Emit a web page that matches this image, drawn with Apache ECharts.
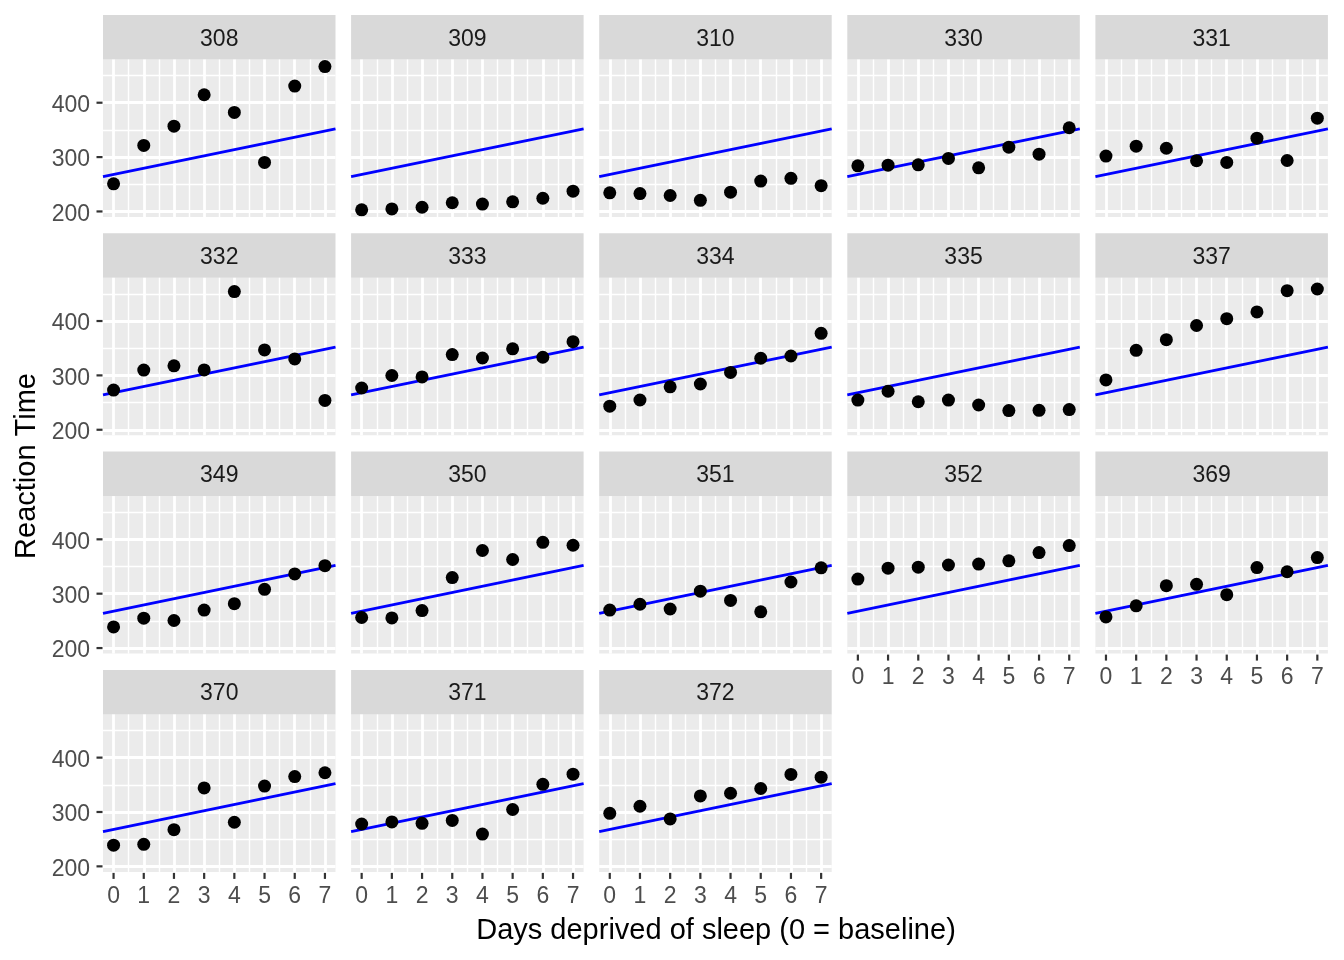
<!DOCTYPE html>
<html>
<head>
<meta charset="utf-8">
<script src="https://cdn.jsdelivr.net/npm/echarts@6/dist/echarts.min.js"></script>
<style>html,body{margin:0;padding:0;background:#fff}#c{width:1344px;height:960px}</style>
</head>
<body>
<div id="c"></div>
<script>
// ---------- data ----------
const days = [0, 1, 2, 3, 4, 5, 6, 7];
const subjects = ['308','309','310','330','331','332','333','334','335','337','349','350','351','352','369','370','371','372'];
const rt308 = [250.8, 321.4, 356.9, 414.7, 382.2, 290.1, 430.6, 466.4];
const rt309 = [203.0, 204.7, 207.7, 216.0, 213.6, 217.7, 224.3, 237.3];
const rt310 = [234.3, 232.8, 229.3, 220.5, 235.4, 255.8, 261.0, 247.5];
const rt330 = [283.9, 285.1, 285.8, 297.6, 280.2, 318.3, 305.3, 354.0];
const rt331 = [301.8, 320.1, 316.3, 293.3, 290.1, 334.8, 293.7, 371.6];
const rt332 = [273.0, 309.8, 317.5, 310.0, 454.2, 346.8, 330.3, 253.9];
const rt333 = [276.8, 299.8, 297.2, 338.2, 332.0, 348.8, 333.4, 362.0];
const rt334 = [243.4, 254.7, 279.0, 284.2, 305.5, 331.5, 335.7, 377.3];
const rt335 = [254.5, 270.8, 251.5, 254.6, 245.5, 235.3, 235.8, 237.2];
const rt337 = [291.6, 346.1, 365.7, 391.8, 404.3, 416.7, 455.9, 458.9];
const rt349 = [238.9, 254.9, 250.7, 269.8, 281.6, 308.1, 336.3, 351.6];
const rt350 = [256.2, 255.5, 268.9, 329.7, 379.4, 362.9, 394.5, 389.1];
const rt351 = [269.9, 280.6, 271.8, 304.6, 287.7, 266.6, 321.5, 347.6];
const rt352 = [326.9, 346.9, 348.7, 352.8, 354.4, 360.4, 375.6, 388.5];
const rt369 = [257.2, 277.7, 314.8, 317.2, 298.1, 348.1, 340.3, 366.5];
const rt370 = [238.9, 240.5, 267.5, 344.2, 281.1, 347.6, 365.2, 372.2];
const rt371 = [277.9, 281.8, 279.2, 284.5, 259.3, 304.6, 350.8, 369.5];
const rt372 = [297.6, 310.6, 287.2, 329.6, 334.5, 343.2, 369.1, 364.1];
const reactions = [rt308, rt309, rt310, rt330, rt331, rt332, rt333, rt334, rt335, rt337,
                   rt349, rt350, rt351, rt352, rt369, rt370, rt371, rt372];
// population fit line (endpoints at panel x-limits)
const fitX = [-0.35, 7.35];
const fitY = [264.0, 352.0];
// axis ticks / grid breaks
const xTicks = [0, 1, 2, 3, 4, 5, 6, 7];
const xMinor = [0.5, 1.5, 2.5, 3.5, 4.5, 5.5, 6.5];
const yTicks = [200, 300, 400];
const yMinor = [250, 350, 450];
const xRange = [-0.35, 7.35];
const yRange = [189.8, 479.5];

// ---------- layout ----------
const FONT = "'Liberation Sans', Arial, Helvetica, sans-serif";
const LEFT0 = 103, COLPITCH = 248.1, PW = 232.5;
const TOP0 = 15, ROWPITCH = 218.3, SH = 44.5, PH = 157.5;
const nCols = 5;
const xLabelPanels = [13, 14, 15, 16, 17];

const grids = [], xAxes = [], yAxes = [], series = [], graphics = [];
subjects.forEach((s, i) => {
  const col = i % nCols, row = Math.floor(i / nCols);
  const left = LEFT0 + col * COLPITCH;
  const stripTop = TOP0 + row * ROWPITCH;
  const top = stripTop + SH;
  grids.push({ left: left, top: top, width: PW, height: PH, show: true,
    backgroundColor: '#EBEBEB', borderWidth: 0, containLabel: false });
  const showX = xLabelPanels.indexOf(i) >= 0;
  const showY = col === 0;
  xAxes.push({ gridIndex: i, type: 'value', min: xRange[0], max: xRange[1],
    splitLine: { show: false }, axisLine: { show: false }, axisTick: { show: false },
    axisLabel: { show: showX, customValues: xTicks, margin: 13, fontSize: 23, color: '#4D4D4D', fontFamily: FONT }
  });
  yAxes.push({ gridIndex: i, type: 'value', min: yRange[0], max: yRange[1],
    splitLine: { show: false }, axisLine: { show: false }, axisTick: { show: false },
    axisLabel: { show: showY, customValues: yTicks, margin: 13, fontFamily: FONT,
      formatter: '{v|{value}}',
      rich: { v: { fontSize: 23, color: '#4D4D4D', fontFamily: FONT, padding: [6, 0, 0, 0] } } }
  });
  const gl = [];
  yMinor.forEach(v => gl.push({ yAxis: v, lineStyle: { color: '#FFFFFF', width: 1.4, type: 'solid' } }));
  xMinor.forEach(v => gl.push({ xAxis: v, lineStyle: { color: '#FFFFFF', width: 1.4, type: 'solid' } }));
  yTicks.forEach(v => gl.push({ yAxis: v, lineStyle: { color: '#FFFFFF', width: 2.8, type: 'solid' } }));
  xTicks.forEach(v => gl.push({ xAxis: v, lineStyle: { color: '#FFFFFF', width: 2.8, type: 'solid' } }));
  series.push({ type: 'scatter', xAxisIndex: i, yAxisIndex: i, data: [], z: 1, silent: true,
    markLine: { silent: true, symbol: ['none', 'none'], z: 1, animation: false,
      label: { show: false }, emphasis: { disabled: true },
      lineStyle: { type: 'solid', color: '#FFFFFF' }, data: gl } });
  series.push({ type: 'line', xAxisIndex: i, yAxisIndex: i, z: 5, silent: true,
    data: [[fitX[0], fitY[0]], [fitX[1], fitY[1]]], showSymbol: false, symbol: 'none',
    lineStyle: { color: '#0000FF', width: 2.8 }, animation: false });
  series.push({ type: 'scatter', xAxisIndex: i, yAxisIndex: i, z: 6, silent: true,
    data: days.map((d, k) => [d, reactions[i][k]]), symbolSize: 13,
    itemStyle: { color: '#000000', opacity: 1 }, animation: false });
  graphics.push({ type: 'rect', shape: { x: left, y: stripTop, width: PW, height: SH },
    style: { fill: '#D9D9D9' }, silent: true });
  graphics.push({ type: 'text', x: left + PW / 2, y: stripTop + SH / 2 + 2,
    style: { text: s, textAlign: 'center', textVerticalAlign: 'middle', fontSize: 23,
      fill: '#1A1A1A', fontFamily: FONT }, silent: true });
  // axis tick marks (same linear mapping as the panel's axes)
  if (showY) {
    yTicks.forEach(v => {
      const py = top + PH * (yRange[1] - v) / (yRange[1] - yRange[0]);
      graphics.push({ type: 'rect', silent: true, z: 100,
        shape: { x: left - 6.5, y: py - 1.1, width: 6, height: 2.2 },
        style: { fill: '#333333' } });
    });
  }
  if (showX) {
    xTicks.forEach(v => {
      const px = left + PW * (v - xRange[0]) / (xRange[1] - xRange[0]);
      graphics.push({ type: 'rect', silent: true, z: 100,
        shape: { x: px - 1.1, y: top + PH + 1, width: 2.2, height: 6 },
        style: { fill: '#333333' } });
    });
  }
});
graphics.push({ type: 'text', x: 716, y: 931,
  style: { text: 'Days deprived of sleep (0 = baseline)', textAlign: 'center', textVerticalAlign: 'middle',
    fontSize: 29, fill: '#000000', fontFamily: FONT }, silent: true });
graphics.push({ type: 'text', x: 27, y: 466, rotation: Math.PI / 2,
  style: { text: 'Reaction Time', textAlign: 'center', textVerticalAlign: 'middle',
    fontSize: 29, fill: '#000000', fontFamily: FONT }, silent: true });

const chart = echarts.init(document.getElementById('c'), null, { renderer: 'canvas' });
chart.setOption({
  animation: false,
  backgroundColor: '#FFFFFF',
  grid: grids, xAxis: xAxes, yAxis: yAxes, series: series,
  graphic: [{ elements: graphics }]
});
</script>
</body>
</html>
